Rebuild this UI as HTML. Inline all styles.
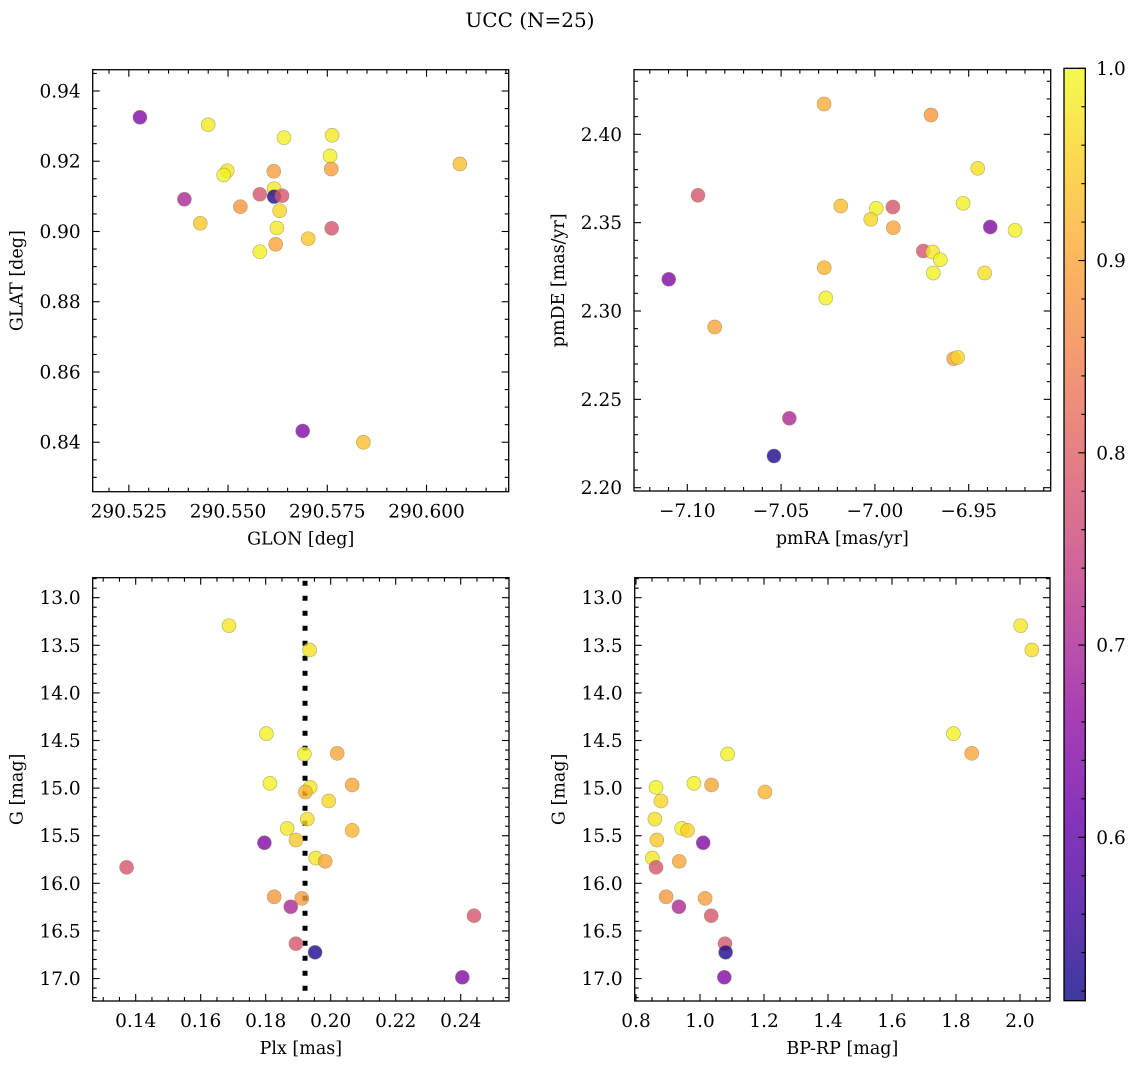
<!DOCTYPE html>
<html>
<head>
<meta charset="utf-8">
<style>
  html, body { margin: 0; padding: 0; background: #ffffff; }
  #chart { display: block; width: 1136px; height: 1068px; }
  text { font-family: "DejaVu Serif", "Liberation Serif", serif; fill: #000; }
</style>
</head>
<body>
<svg id="chart" width="1136" height="1068" viewBox="0 0 1136 1068" xmlns="http://www.w3.org/2000/svg">
  <text x="530" y="27" font-size="20" text-anchor="middle">UCC (N=25)</text>
  <g id="layer"></g>
</svg>
<script>
// ---- Panel 1: GLON vs GLAT ----
const glon = [290.5278,290.5450,290.5641,290.5762,290.5757,290.5760,290.6084,290.5615,290.5498,290.5489,290.5616,290.5580,290.5616,290.5636,290.5390,290.5531,290.5630,290.5430,290.5623,290.5761,290.5702,290.5620,290.5580,290.5688,290.5841];
const glat = [0.93251,0.93041,0.92671,0.92739,0.92149,0.91779,0.91922,0.91714,0.91731,0.91609,0.91219,0.91059,0.90991,0.91019,0.90917,0.90706,0.90592,0.90233,0.90100,0.90091,0.89795,0.89636,0.89425,0.84321,0.84000];
const prob1 = [0.64,0.98,0.99,0.98,0.99,0.89,0.93,0.89,0.98,0.99,0.98,0.78,0.53,0.78,0.70,0.88,0.96,0.94,0.98,0.78,0.94,0.90,0.99,0.64,0.93];
// ---- Panel 2: pmRA vs pmDE ----
const pmra = [-7.0271,-6.9701,-7.0943,-6.9452,-6.9530,-7.0182,-6.9993,-6.9904,-7.0022,-6.9902,-6.9385,-6.9253,-6.9742,-6.9692,-6.9651,-7.0270,-6.9689,-6.9415,-7.1099,-7.0262,-7.0854,-6.9580,-6.9559,-7.0456,-7.0538];
const pmde = [2.41715,2.41092,2.36548,2.38076,2.36095,2.35942,2.35812,2.35886,2.35190,2.34714,2.34754,2.34567,2.33396,2.33339,2.32903,2.32450,2.32150,2.32150,2.31794,2.30736,2.29094,2.27300,2.27380,2.23928,2.21794];
const prob2 = [0.91,0.88,0.78,0.97,0.99,0.93,0.99,0.78,0.96,0.90,0.64,0.99,0.78,0.98,0.99,0.92,0.99,0.97,0.64,0.99,0.90,0.89,0.96,0.70,0.53];
// ---- Panel 3: Plx vs G ----
const plx = [0.1687,0.1935,0.1802,0.1919,0.2020,0.1813,0.1937,0.1922,0.2066,0.1994,0.1928,0.1866,0.2066,0.1893,0.1796,0.1954,0.1983,0.1372,0.1826,0.1911,0.1877,0.2441,0.1893,0.1952,0.2405];
const gmag3 = [13.294,13.549,14.428,14.642,14.635,14.950,14.992,15.041,14.967,15.135,15.325,15.423,15.444,15.545,15.574,15.734,15.769,15.832,16.141,16.158,16.246,16.340,16.634,16.725,16.987];
const prob3 = [0.98,0.97,0.99,0.99,0.90,0.99,0.98,0.92,0.90,0.96,0.97,0.98,0.92,0.94,0.64,0.98,0.90,0.78,0.88,0.89,0.70,0.78,0.78,0.53,0.64];
const plxLine = [0.1921];
// ---- Panel 4: BP-RP vs G ----
const bprp = [2.002,2.037,1.792,1.849,1.086,0.8625,0.981,1.036,1.203,0.878,0.859,0.943,0.961,0.865,1.010,0.851,0.935,0.8625,0.894,1.016,0.934,1.035,1.078,1.080,1.076];
const gmag4 = [13.294,13.549,14.428,14.635,14.642,14.992,14.950,14.967,15.041,15.135,15.325,15.423,15.444,15.545,15.574,15.734,15.769,15.832,16.141,16.158,16.246,16.340,16.634,16.725,16.987];
const prob4 = [0.98,0.97,0.99,0.90,0.99,0.99,0.99,0.90,0.92,0.96,0.97,0.99,0.95,0.94,0.64,0.98,0.90,0.78,0.88,0.89,0.70,0.78,0.78,0.53,0.64];
// ---- ticks ----
const ticks1x = [290.525,290.550,290.575,290.600];
const ticks1xLabels = ["290.525","290.550","290.575","290.600"];
const ticks1y = [0.84,0.86,0.88,0.90,0.92,0.94];
const ticks1yLabels = ["0.84","0.86","0.88","0.90","0.92","0.94"];
const ticks2x = [-7.10,-7.05,-7.00,-6.95];
const ticks2xLabels = ["\u22127.10","\u22127.05","\u22127.00","\u22126.95"];
const ticks2y = [2.20,2.25,2.30,2.35,2.40];
const ticks2yLabels = ["2.20","2.25","2.30","2.35","2.40"];
const ticks3x = [0.14,0.16,0.18,0.20,0.22,0.24];
const ticks3xLabels = ["0.14","0.16","0.18","0.20","0.22","0.24"];
const ticksGy = [13.0,13.5,14.0,14.5,15.0,15.5,16.0,16.5,17.0];
const ticksGyLabels = ["13.0","13.5","14.0","14.5","15.0","15.5","16.0","16.5","17.0"];
const ticks4x = [0.8,1.0,1.2,1.4,1.6,1.8,2.0];
const ticks4xLabels = ["0.8","1.0","1.2","1.4","1.6","1.8","2.0"];
const cbTicks = [0.6,0.7,0.8,0.9,1.0];
const cbTickLabels = ["0.6","0.7","0.8","0.9","1.0"];
const cbRange = [0.515, 1.0];

const NS = "http://www.w3.org/2000/svg";
const layer = document.getElementById('layer');
function mk(tag, attrs, parent) {
  const e = document.createElementNS(NS, tag);
  for (const k in attrs) e.setAttribute(k, attrs[k]);
  (parent || layer).appendChild(e);
  return e;
}
const stops = [[13,8,135],[65,4,157],[106,0,168],[143,13,164],[177,42,144],[204,71,120],[225,100,98],[242,132,75],[252,166,54],[252,206,37],[240,249,33]];
function plasma(t) {
  t = Math.max(0, Math.min(1, t));
  const f = t * 10, i = Math.min(9, Math.floor(f)), r = f - i;
  const a = stops[i], b = stops[i + 1];
  return 'rgb(' + [0,1,2].map(k => Math.round(a[k] + (b[k] - a[k]) * r)).join(',') + ')';
}
function cnorm(v) { return (v - cbRange[0]) / (cbRange[1] - cbRange[0]); }

function panel(cfg) {
  const g = mk('g', {});
  
  
  const L = cfg.box[0], T = cfg.box[1], R = cfg.box[2], B = cfg.box[3];
  const sx = v => L + (v - cfg.xr[0]) / (cfg.xr[1] - cfg.xr[0]) * (R - L);
  const sy = cfg.yinv ? (v => T + (v - cfg.yr[0]) / (cfg.yr[1] - cfg.yr[0]) * (B - T))
                      : (v => B - (v - cfg.yr[0]) / (cfg.yr[1] - cfg.yr[0]) * (B - T));
  const tg = mk('g', {stroke: '#000', 'stroke-width': 1.1}, g);
  
  
  const xlo = Math.min(...cfg.xr), xhi = Math.max(...cfg.xr);
  for (let k = Math.ceil(xlo / cfg.xminor - 1e-6); k * cfg.xminor <= xhi + 1e-9; k++) {
    const v = k * cfg.xminor, x = sx(v);
    const major = cfg.xt.some(t => Math.abs(t - v) < cfg.xminor * 0.1);
    const len = major ? 7 : 4;
    mk('line', {x1: x, x2: x, y1: B, y2: B - len}, tg);
    mk('line', {x1: x, x2: x, y1: T, y2: T + len}, tg);
  }
  const ylo = Math.min(...cfg.yr), yhi = Math.max(...cfg.yr);
  for (let k = Math.ceil(ylo / cfg.yminor - 1e-6); k * cfg.yminor <= yhi + 1e-9; k++) {
    const v = k * cfg.yminor, y = sy(v);
    const major = cfg.yt.some(t => Math.abs(t - v) < cfg.yminor * 0.1);
    const len = major ? 7 : 4;
    mk('line', {x1: L, x2: L + len, y1: y, y2: y}, tg);
    mk('line', {x1: R, x2: R - len, y1: y, y2: y}, tg);
  }
  cfg.xt.forEach((v, i) => {
    const t = mk('text', {x: sx(v), y: B + 26, 'font-size': 18.5, 'text-anchor': 'middle'}, g);
    t.textContent = cfg.xl[i];
    
    
  });
  cfg.yt.forEach((v, i) => {
    const t = mk('text', {x: L - 12, y: sy(v) + 6.5, 'font-size': 18.5, 'text-anchor': 'end'}, g);
    t.textContent = cfg.yl[i];
    
    
  });
  const xt = mk('text', {x: (L + R) / 2, y: B + 53, 'font-size': 17.5, 'text-anchor': 'middle'}, g);
  xt.textContent = cfg.xtitle;
  
  
  const yx = L - 70, yy = (T + B) / 2;
  const yt = mk('text', {x: yx, y: yy, 'font-size': 17.5, 'text-anchor': 'middle', transform: 'rotate(-90 ' + yx + ' ' + yy + ')'}, g);
  yt.textContent = cfg.ytitle;
  
  
  if (cfg.vline) {
    cfg.vline.forEach(v => {
      const ln = mk('line', {x1: sx(v), x2: sx(v), y1: T, y2: B, stroke: '#000', 'stroke-width': 5, 'stroke-dasharray': '5 10', 'stroke-dashoffset': -3}, g);
      
      
    });
  }
  cfg.xs.forEach((xv, i) => {
    const c = mk('circle', {cx: sx(xv), cy: sy(cfg.ys[i]), r: 7, fill: plasma(cnorm(cfg.cs[i])), 'fill-opacity': 0.8, stroke: '#8a8a5a', 'stroke-opacity': 0.6, 'stroke-width': 0.7}, g);
    
    
  });
  const fr = mk('rect', {x: L, y: T, width: R - L, height: B - T, fill: 'none', stroke: '#000', 'stroke-width': 1.3}, g);
  
  
}

panel({name: 'glon-glat-panel', box: [92.7, 69.7, 508.7, 491.7], xr: [290.5159, 290.6207], yr: [0.82592, 0.94606],
  xt: ticks1x, xl: ticks1xLabels, yt: ticks1y, yl: ticks1yLabels, xminor: 0.005, yminor: 0.005,
  xtitle: 'GLON [deg]', ytitle: 'GLAT [deg]', xs: glon, ys: glat, cs: prob1});
panel({name: 'pm-panel', box: [634, 69.7, 1050.7, 491], xr: [-7.12841, -6.90629], yr: [2.19813, 2.43656],
  xt: ticks2x, xl: ticks2xLabels, yt: ticks2y, yl: ticks2yLabels, xminor: 0.01, yminor: 0.01,
  xtitle: 'pmRA [mas/yr]', ytitle: 'pmDE [mas/yr]', xs: pmra, ys: pmde, cs: prob2});
panel({name: 'plx-g-panel', box: [92.7, 577.7, 509, 1001], xr: [0.12677, 0.25486], yr: [12.790, 17.236], yinv: true,
  xt: ticks3x, xl: ticks3xLabels, yt: ticksGy, yl: ticksGyLabels, xminor: 0.005, yminor: 0.1,
  xtitle: 'Plx [mas]', ytitle: 'G [mag]', xs: plx, ys: gmag3, cs: prob3, vline: plxLine});
panel({name: 'cmd-panel', box: [634.7, 577.7, 1050, 1001], xr: [0.7959, 2.09375], yr: [12.790, 17.236], yinv: true,
  xt: ticks4x, xl: ticks4xLabels, yt: ticksGy, yl: ticksGyLabels, xminor: 0.05, yminor: 0.1,
  xtitle: 'BP-RP [mag]', ytitle: 'G [mag]', xs: bprp, ys: gmag4, cs: prob4});

// ---- colorbar ----
(function () {
  const L = 1064, R = 1085.3, T = 68.3, B = 1000.7;
  const g = mk('g', {});
  
  
  const defs = mk('defs', {}, g);
  const lg = mk('linearGradient', {id: 'cbgrad', x1: 0, y1: 1, x2: 0, y2: 0}, defs);
  for (let i = 0; i <= 20; i++) mk('stop', {offset: i / 20, 'stop-color': plasma(i / 20)}, lg);
  const r = mk('rect', {x: L, y: T, width: R - L, height: B - T, fill: 'url(#cbgrad)', 'fill-opacity': 0.8, stroke: '#000', 'stroke-width': 1.3}, g);
  
  
  const sy = v => B - cnorm(v) * (B - T);
  for (let k = Math.ceil(cbRange[0] / 0.02); k * 0.02 <= cbRange[1] + 1e-9; k++) {
    const v = k * 0.02, y = sy(v);
    const major = cbTicks.some(t => Math.abs(t - v) < 0.002);
    mk('line', {x1: R, x2: R - (major ? 7 : 4), y1: y, y2: y, stroke: '#000', 'stroke-width': 1.1}, g);
  }
  cbTicks.forEach((v, i) => {
    const t = mk('text', {x: R + 11, y: sy(v) + 6.5, 'font-size': 18.5}, g);
    t.textContent = cbTickLabels[i];
    
    
  });
})();
</script>
</body>
</html>
